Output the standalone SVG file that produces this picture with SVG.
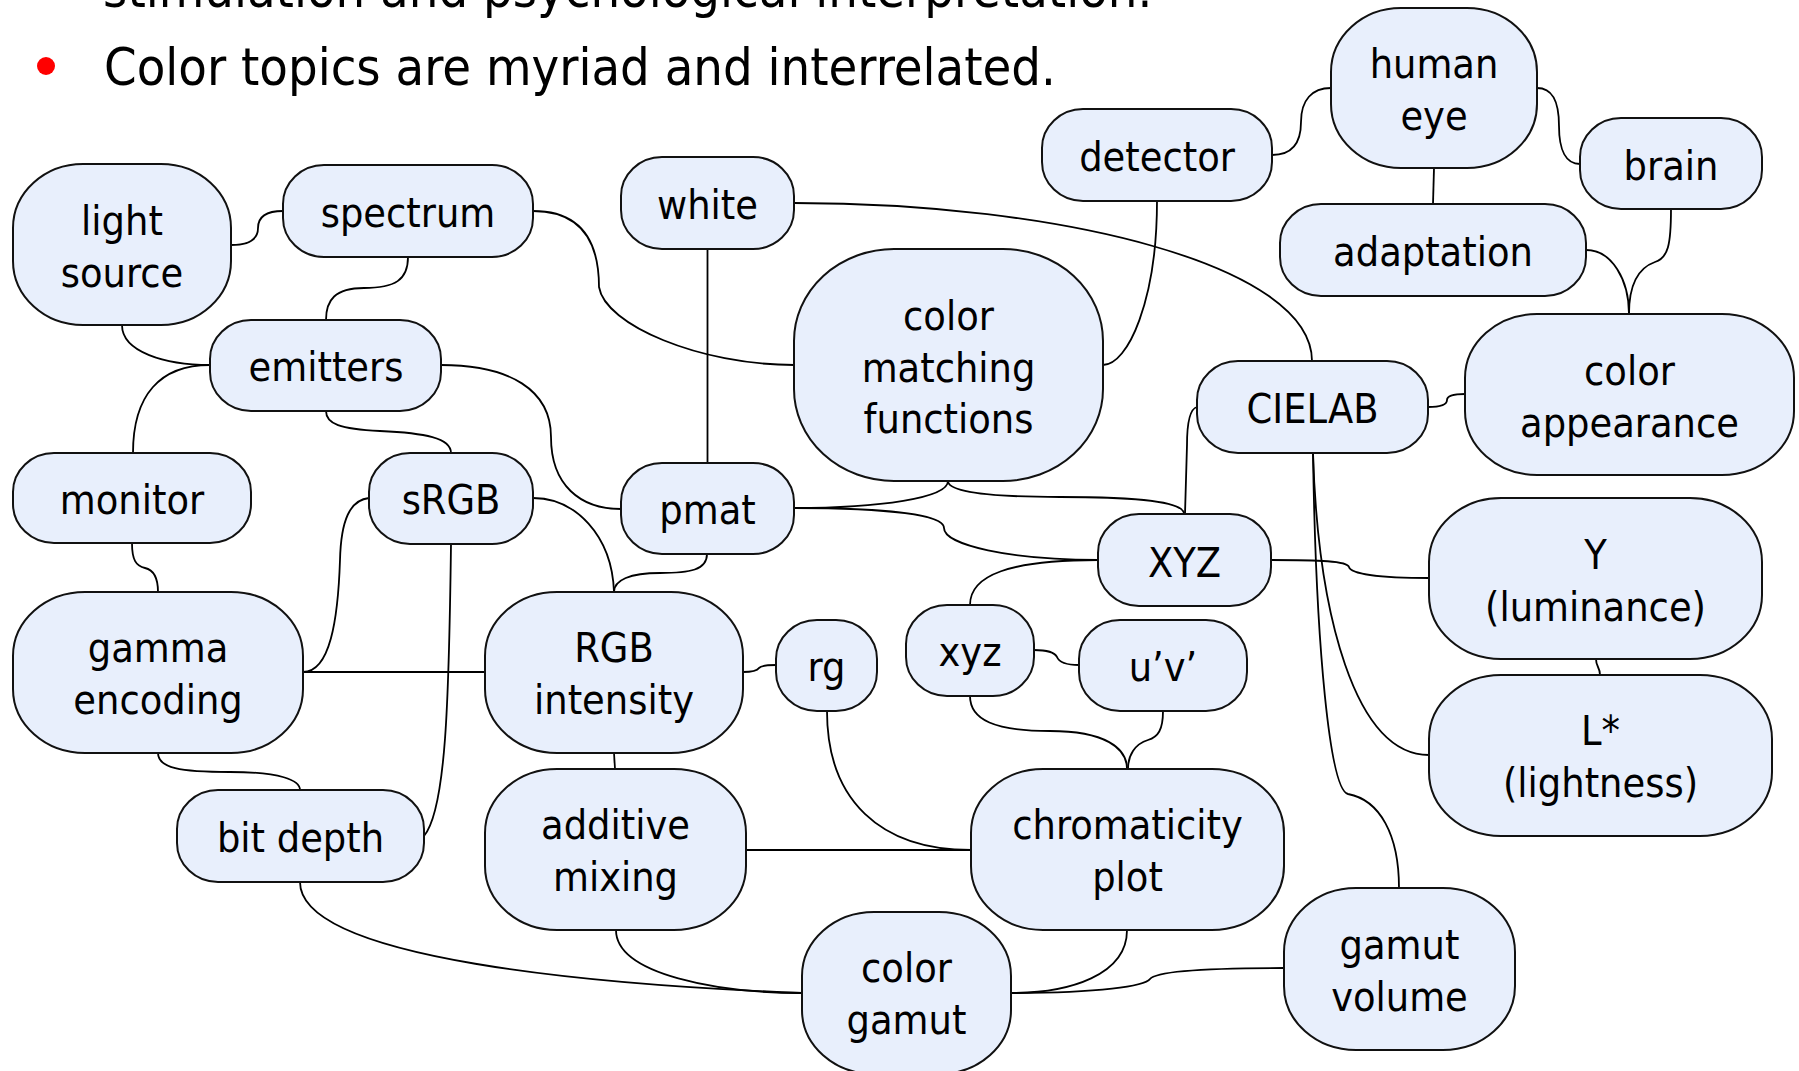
<svg xmlns="http://www.w3.org/2000/svg" width="1799" height="1071" viewBox="0 0 1799 1071">
  <style>
    .bg { fill: #ffffff; }
    .title { font-family: "DejaVu Sans Condensed", "DejaVu Sans", sans-serif; font-size: 52px; fill: #000; }
    .node rect { fill: #e8effc; stroke: #111; stroke-width: 2; }
    .node text { font-family: "DejaVu Sans Condensed", "DejaVu Sans", sans-serif; font-size: 41px; fill: #000; text-anchor: middle; }
    .edge { fill: none; stroke: #000; stroke-width: 1.8; }
  </style>
  <rect class="bg" x="0" y="0" width="1799" height="1071"/>

  <!-- slide text -->
  <text class="title" x="103" y="7">stimulation and psychological interpretation.</text>
  <circle cx="46" cy="66" r="9" fill="#ff0000"/>
  <text class="title" x="104" y="85">Color topics are myriad and interrelated.</text>

  <!-- connectors -->
  <g id="connectors">
    <path class="edge" d="M231,245 C248,245 258,240 258,228 C258,216 268,211 283,211"/>
    <path class="edge" d="M408,257 C408,280 395,288 364,288 C335,288 326,300 326,320"/>
    <path class="edge" d="M122,325 C122,352 165,365 210,365"/>
    <path class="edge" d="M210,365 C160,365 133,395 133,453"/>
    <path class="edge" d="M326,411 C326,424 340,429 380,431 C425,433 451,438 451,453"/>
    <path class="edge" d="M441,365 C510,365 551,390 551,437 C551,485 580,509 621,509"/>
    <path class="edge" d="M533,211 C580,211 599,240 599,287 C605,325 700,365 794,365"/>
    <path class="edge" d="M707.5,249 L707.5,463"/>
    <path class="edge" d="M794,203 C1060,203 1312,265 1312,361"/>
    <path class="edge" d="M1157,201 C1157,300 1128,365 1103,365"/>
    <path class="edge" d="M1272,155 C1290,155 1301,145 1301,122 C1301,100 1312,88 1331,88"/>
    <path class="edge" d="M1537,88 C1552,88 1559,100 1559,126 C1559,150 1566,164 1580,164"/>
    <path class="edge" d="M1434,168 L1433,204"/>
    <path class="edge" d="M1586,250 C1612,250 1629,280 1629,314"/>
    <path class="edge" d="M1671,209 C1671,245 1668,258 1655,262 C1638,268 1629,285 1629,314"/>
    <path class="edge" d="M1428,407 C1440,407 1447,405 1447,400 C1447,396 1453,394 1465,394"/>
    <path class="edge" d="M948,481 C948,498 880,508 794,508"/>
    <path class="edge" d="M948,481 C948,492 990,497 1060,497 C1140,497 1184,502 1184,514"/>
    <path class="edge" d="M1197,407 C1189,409 1187,425 1187,445 L1185,514"/>
    <path class="edge" d="M794,508 C890,508 944,515 944,528 C944,545 1010,560 1098,560"/>
    <path class="edge" d="M707,554 C707,570 690,573 660,573 C630,573 614,580 614,592"/>
    <path class="edge" d="M533,498 C575,498 612,535 614,592"/>
    <path class="edge" d="M369,498 C350,500 341,520 340,560 C338,620 330,672 303,672"/>
    <path class="edge" d="M132,543 C132,560 136,566 145,568 C154,570 158,578 158,592"/>
    <path class="edge" d="M303,672 L485,672"/>
    <path class="edge" d="M451,544 C449,700 446,810 424,836"/>
    <path class="edge" d="M158,753 C158,768 180,772 230,772 C280,772 300,780 300,790"/>
    <path class="edge" d="M743,672 C752,672 757,671 759,668 C761,666 766,665 776,665"/>
    <path class="edge" d="M614,753 L615,769"/>
    <path class="edge" d="M1098,560 C1010,560 970,575 970,605"/>
    <path class="edge" d="M1271,560 C1320,560 1347,561 1349,567 C1351,574 1380,578 1429,578"/>
    <path class="edge" d="M1313,453 C1318,615 1355,755 1429,755"/>
    <path class="edge" d="M1313,453 C1316,650 1330,790 1348,794 C1380,800 1399,835 1399,888"/>
    <path class="edge" d="M1596,659 C1596,667 1600,667 1600,675"/>
    <path class="edge" d="M1034,650 C1050,650 1055,653 1057,657 C1059,662 1065,665 1079,665"/>
    <path class="edge" d="M970,696 C970,720 995,731 1050,731 C1105,731 1127,748 1127,769"/>
    <path class="edge" d="M1163,711 C1163,730 1158,737 1148,740 C1135,744 1128,755 1128,769"/>
    <path class="edge" d="M827,711 C827,800 880,850 971,850"/>
    <path class="edge" d="M746,850 L971,850"/>
    <path class="edge" d="M300,882 C300,960 600,985 802,993"/>
    <path class="edge" d="M616,930 C616,975 720,993 802,993"/>
    <path class="edge" d="M1127,930 C1127,975 1070,993 1011,993"/>
    <path class="edge" d="M1284,968 C1200,968 1155,972 1150,979 C1145,986 1100,993 1011,993"/>
  </g>

  <!-- topic nodes -->
  <g id="light-source" class="node"><rect x="13" y="164" width="218" height="161" rx="70" ry="64"/><text x="122" y="235">light</text><text x="122" y="287">source</text></g>
  <g id="spectrum" class="node"><rect x="283" y="165" width="250" height="92" rx="41" ry="39"/><text x="408" y="227">spectrum</text></g>
  <g id="white" class="node"><rect x="621" y="157" width="173" height="92" rx="41" ry="39"/><text x="707.5" y="219">white</text></g>
  <g id="detector" class="node"><rect x="1042" y="109" width="230" height="92" rx="41" ry="39"/><text x="1157" y="171">detector</text></g>
  <g id="human-eye" class="node"><rect x="1331" y="8" width="206" height="160" rx="70" ry="64"/><text x="1434" y="78">human</text><text x="1434" y="130">eye</text></g>
  <g id="brain" class="node"><rect x="1580" y="118" width="182" height="91" rx="41" ry="39"/><text x="1671" y="180">brain</text></g>
  <g id="adaptation" class="node"><rect x="1280" y="204" width="306" height="92" rx="41" ry="39"/><text x="1433" y="266">adaptation</text></g>
  <g id="color-matching-functions" class="node"><rect x="794" y="249" width="309" height="232" rx="100" ry="92"/><text x="948.5" y="330">color</text><text x="948.5" y="382">matching</text><text x="948.5" y="433">functions</text></g>
  <g id="emitters" class="node"><rect x="210" y="320" width="231" height="91" rx="41" ry="39"/><text x="326" y="381">emitters</text></g>
  <g id="cielab" class="node"><rect x="1197" y="361" width="231" height="92" rx="41" ry="39"/><text x="1312.5" y="423">CIELAB</text></g>
  <g id="color-appearance" class="node"><rect x="1465" y="314" width="329" height="161" rx="72" ry="64"/><text x="1629.5" y="385">color</text><text x="1629.5" y="437">appearance</text></g>
  <g id="monitor" class="node"><rect x="13" y="453" width="238" height="90" rx="41" ry="39"/><text x="132" y="514">monitor</text></g>
  <g id="srgb" class="node"><rect x="369" y="453" width="164" height="91" rx="41" ry="39"/><text x="451" y="514">sRGB</text></g>
  <g id="pmat" class="node"><rect x="621" y="463" width="173" height="91" rx="41" ry="39"/><text x="707.5" y="524">pmat</text></g>
  <g id="xyz-upper" class="node"><rect x="1098" y="514" width="173" height="92" rx="41" ry="39"/><text x="1184.5" y="577">XYZ</text></g>
  <g id="luminance" class="node"><rect x="1429" y="498" width="333" height="161" rx="72" ry="64"/><text x="1595.5" y="569">Y</text><text x="1595.5" y="621">(luminance)</text></g>
  <g id="gamma-encoding" class="node"><rect x="13" y="592" width="290" height="161" rx="72" ry="64"/><text x="158" y="662">gamma</text><text x="158" y="714">encoding</text></g>
  <g id="rgb-intensity" class="node"><rect x="485" y="592" width="258" height="161" rx="72" ry="64"/><text x="614" y="662">RGB</text><text x="614" y="714">intensity</text></g>
  <g id="rg" class="node"><rect x="776" y="620" width="101" height="91" rx="41" ry="39"/><text x="826.5" y="681">rg</text></g>
  <g id="xyz-lower" class="node"><rect x="906" y="605" width="128" height="91" rx="41" ry="39"/><text x="970" y="666">xyz</text></g>
  <g id="uv" class="node"><rect x="1079" y="620" width="168" height="91" rx="41" ry="39"/><text x="1163" y="681">u’v’</text></g>
  <g id="lightness" class="node"><rect x="1429" y="675" width="343" height="161" rx="72" ry="64"/><text x="1600.5" y="745">L*</text><text x="1600.5" y="797">(lightness)</text></g>
  <g id="bit-depth" class="node"><rect x="177" y="790" width="247" height="92" rx="41" ry="39"/><text x="300.5" y="852">bit depth</text></g>
  <g id="additive-mixing" class="node"><rect x="485" y="769" width="261" height="161" rx="72" ry="64"/><text x="615.5" y="839">additive</text><text x="615.5" y="891">mixing</text></g>
  <g id="chromaticity-plot" class="node"><rect x="971" y="769" width="313" height="161" rx="72" ry="64"/><text x="1127.5" y="839">chromaticity</text><text x="1127.5" y="891">plot</text></g>
  <g id="color-gamut" class="node"><rect x="802" y="912" width="209" height="162" rx="72" ry="64"/><text x="906.5" y="982">color</text><text x="906.5" y="1034">gamut</text></g>
  <g id="gamut-volume" class="node"><rect x="1284" y="888" width="231" height="162" rx="72" ry="64"/><text x="1399.5" y="959">gamut</text><text x="1399.5" y="1011">volume</text></g>
</svg>
